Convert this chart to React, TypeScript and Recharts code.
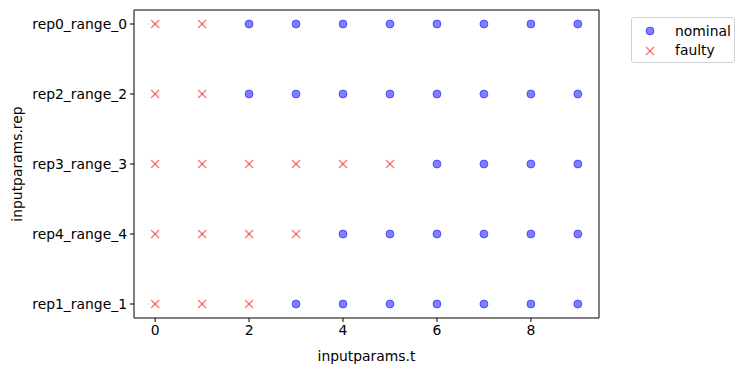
import React from "react";
import { ScatterChart, Scatter, XAxis, YAxis, ReferenceArea } from "recharts";

// row order top to bottom, as in the picture
const reps = ["rep0_range_0", "rep2_range_2", "rep3_range_3", "rep4_range_4", "rep1_range_1"];
const nominalT = [
  [2, 3, 4, 5, 6, 7, 8, 9],
  [2, 3, 4, 5, 6, 7, 8, 9],
  [6, 7, 8, 9],
  [4, 5, 6, 7, 8, 9],
  [3, 4, 5, 6, 7, 8, 9],
];
const faultyT = [
  [0, 1],
  [0, 1],
  [0, 1, 2, 3, 4, 5],
  [0, 1, 2, 3],
  [0, 1, 2],
];
const xTicks = [0, 2, 4, 6, 8];

const FONT = "DejaVu Sans, sans-serif";

const toPoints = (rows: number[][]) =>
  rows.flatMap((ts, i) => ts.map((t) => ({ t, rep: i })));

const Dot = (props: any) => (
  <circle
    cx={props.cx}
    cy={props.cy}
    r={4}
    fill="#0000ff"
    fillOpacity={0.5}
    stroke="#0000ff"
    strokeOpacity={0.5}
    strokeWidth={1}
  />
);

const Cross = (props: any) => {
  const { cx, cy } = props;
  const d = 4;
  return (
    <g stroke="#ff0000" strokeOpacity={0.5} strokeWidth={1.6}>
      <line x1={cx - d} y1={cy - d} x2={cx + d} y2={cy + d} />
      <line x1={cx - d} y1={cy + d} x2={cx + d} y2={cy - d} />
    </g>
  );
};

const LegendBox = () => (
  <div
    style={{
      position: "absolute",
      left: 631,
      top: 17,
      width: 102,
      height: 44,
      border: "1px solid #d0d0d0",
      borderRadius: 3,
      background: "rgba(255,255,255,0.8)",
    }}
  >
    <svg width={102} height={44} style={{ position: "absolute", left: 0, top: 0 }}>
      <circle cx={18} cy={13} r={4} fill="#0000ff" fillOpacity={0.5} stroke="#0000ff" strokeOpacity={0.5} />
      <g stroke="#ff0000" strokeOpacity={0.5} strokeWidth={1.6}>
        <line x1={14} y1={29} x2={22} y2={37} />
        <line x1={14} y1={37} x2={22} y2={29} />
      </g>
      <text x={43} y={18} fontFamily={FONT} fontSize={13.9}>nominal</text>
      <text x={43} y={37} fontFamily={FONT} fontSize={13.9}>faulty</text>
    </svg>
  </div>
);

export default function App() {
  const tick = { fill: "#000", fontFamily: FONT, fontSize: 13.9 };
  return (
    <div style={{ position: "absolute", left: 0, top: 0, width: 745, height: 371, background: "#fff" }}>
      <ScatterChart width={745} height={371} margin={{ top: 10, right: 146, bottom: 0, left: 0 }}>
        <XAxis
          type="number"
          dataKey="t"
          domain={[-0.45, 9.45]}
          ticks={xTicks}
          allowDataOverflow
          height={53}
          tickSize={4}
          tickMargin={3}
          axisLine={false}
          tickLine={{ stroke: "#000" }}
          tick={tick}
          label={{ value: "inputparams.t", position: "insideBottom", offset: 10, fill: "#000", fontFamily: FONT, fontSize: 13.9 }}
        />
        <YAxis
          type="number"
          dataKey="rep"
          domain={[-0.2, 4.2]}
          reversed
          ticks={[0, 1, 2, 3, 4]}
          tickFormatter={(i: number) => reps[i]}
          allowDataOverflow
          width={134}
          tickSize={4}
          tickMargin={3}
          axisLine={false}
          tickLine={{ stroke: "#000" }}
          tick={tick}
          label={{ value: "inputparams.rep", angle: -90, position: "insideLeft", offset: 17, fill: "#000", fontFamily: FONT, fontSize: 13.9, style: { textAnchor: "middle" } }}
        />
        <ReferenceArea x1={-0.45} x2={9.45} y1={-0.2} y2={4.2} fill="none" stroke="#000" strokeWidth={1} ifOverflow="visible" />
        <Scatter name="nominal" data={toPoints(nominalT)} shape={Dot} isAnimationActive={false} />
        <Scatter name="faulty" data={toPoints(faultyT)} shape={Cross} isAnimationActive={false} />
      </ScatterChart>
      <LegendBox />
    </div>
  );
}
